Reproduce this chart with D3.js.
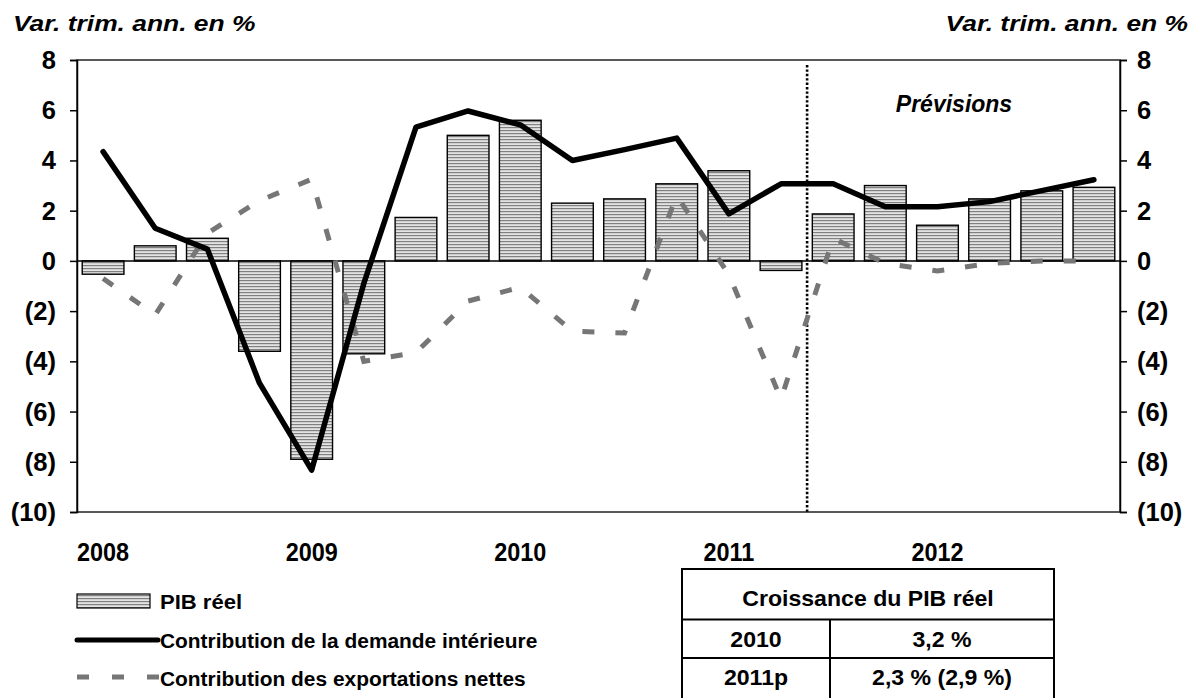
<!DOCTYPE html>
<html>
<head>
<meta charset="utf-8">
<script src="https://cdn.jsdelivr.net/npm/d3@7"></script>
<style>
  body { margin: 0; background: #fff; }
  svg { display: block; font-family: "Liberation Sans", Arial, sans-serif; font-weight: bold; }
</style>
</head>
<body>
<svg id="chart" width="1198" height="698"></svg>
<script>
// ----- data -----
const quarters = ['2008T1','2008T2','2008T3','2008T4','2009T1','2009T2','2009T3','2009T4',
                  '2010T1','2010T2','2010T3','2010T4','2011T1','2011T2','2011T3','2011T4',
                  '2012T1','2012T2','2012T3','2012T4'];
// PIB réel (bars)
const pibReel = [-0.53, 0.6, 0.9, -3.6, -7.9, -3.7, 1.73, 5.0, 5.6, 2.3,
                 2.47, 3.07, 3.59, -0.38, 1.87, 3.0, 1.42, 2.47, 2.79, 2.93];
// contribution de la demande intérieure (solid line)
const demandeInt = [4.35, 1.3, 0.47, -4.87, -8.33, -0.9, 5.33, 5.97, 5.42, 4.0,
                    4.43, 4.89, 1.87, 3.07, 3.07, 2.16, 2.16, 2.36, 2.8, 3.23];
// contribution des exportations nettes (dashed line)
const exportNettes = [-0.7, -2.15, 1.1, 2.4, 3.25, -4.0, -3.65, -1.6, -1.05, -2.8,
                      -2.87, 2.6, -0.55, -5.5, 0.9, -0.1, -0.4, -0.1, 0.0, 0.0];

const yTicks = [8, 6, 4, 2, 0, -2, -4, -6, -8, -10];
const yearLabels = ['2008', '2009', '2010', '2011', '2012'];
const forecastStart = '2011T3';

const tableHeader = 'Croissance du PIB réel';
const tableRows = [['2010', '3,2 %'], ['2011p', '2,3 % (2,9 %)']];

// ----- layout -----
const svg = d3.select('#chart');
const plotL = 77, plotR = 1120, plotT = 60, plotB = 512;

const x = d3.scaleBand().domain(quarters).range([plotL, plotR]).paddingInner(0.2).paddingOuter(0.1);
const y = d3.scaleLinear().domain([-10, 8]).range([plotB, plotT]);
const cx = q => x(q) + x.bandwidth() / 2;

// text helper with a horizontal stretch (source renders wide glyphs)
function label(g, txt, px, py, opts) {
  const o = Object.assign({ size: 20, sx: 1, anchor: 'start', italic: false }, opts);
  return g.append('text')
    .attr('transform', `translate(${px},${py}) scale(${o.sx},1)`)
    .attr('text-anchor', o.anchor)
    .attr('font-size', o.size)
    .attr('font-style', o.italic ? 'italic' : 'normal')
    .attr('fill', '#000')
    .text(txt);
}

// striped fill for bars
const defs = svg.append('defs');
const pat = defs.append('pattern')
  .attr('id', 'stripes').attr('patternUnits', 'userSpaceOnUse')
  .attr('width', 8).attr('height', 3);
pat.append('rect').attr('width', 8).attr('height', 3).attr('fill', '#e4e4e4');
pat.append('rect').attr('y', 1).attr('width', 8).attr('height', 1.2).attr('fill', '#808080');

// titles
label(svg, 'Var. trim. ann. en %', 13, 31, { size: 22, sx: 1.2, italic: true });
label(svg, 'Var. trim. ann. en %', 1188, 31, { size: 22, sx: 1.2, italic: true, anchor: 'end' });

// frame
svg.append('rect')
  .attr('x', plotL).attr('y', plotT).attr('width', plotR - plotL).attr('height', plotB - plotT)
  .attr('fill', 'none').attr('stroke', '#222').attr('stroke-width', 1.5);

// y axes
const yAxisL = d3.axisLeft(y).tickValues(yTicks).tickSize(7).tickFormat('');
const yAxisR = d3.axisRight(y).tickValues(yTicks).tickSize(7).tickFormat('');
svg.append('g').attr('transform', `translate(${plotL},0)`).call(yAxisL)
  .call(g => g.selectAll('path,line').attr('stroke', '#000').attr('stroke-width', 1.5));
svg.append('g').attr('transform', `translate(${plotR},0)`).call(yAxisR)
  .call(g => g.selectAll('path,line').attr('stroke', '#000').attr('stroke-width', 1.5));

const fmt = v => v < 0 ? `(${-v})` : `${v}`;
const tickG = svg.append('g');
yTicks.forEach(v => {
  label(tickG, fmt(v), 56, y(v) + 9, { size: 25, sx: 1.02, anchor: 'end' });
  label(tickG, fmt(v), 1137, y(v) + 9, { size: 25, sx: 1.02 });
});

// year labels, centred under each first quarter
yearLabels.forEach(t => {
  label(svg, t, cx(t + 'T1'), 561, { size: 26, sx: 0.9, anchor: 'middle' });
});

// bars
svg.append('g').selectAll('rect')
  .data(quarters)
  .join('rect')
  .attr('x', q => x(q))
  .attr('width', x.bandwidth())
  .attr('y', (q, i) => y(Math.max(0, pibReel[i])))
  .attr('height', (q, i) => Math.abs(y(pibReel[i]) - y(0)))
  .attr('fill', 'url(#stripes)')
  .attr('stroke', '#000').attr('stroke-width', 1.4);

// zero line
svg.append('line')
  .attr('x1', plotL).attr('x2', plotR).attr('y1', y(0)).attr('y2', y(0))
  .attr('stroke', '#000').attr('stroke-width', 1.5);

// forecast separator
const sepX = x(forecastStart) - x.step() * x.paddingInner() / 2;
svg.append('line')
  .attr('x1', sepX).attr('x2', sepX).attr('y1', plotT + 5).attr('y2', plotB)
  .attr('stroke', '#000').attr('stroke-width', 2.6).attr('stroke-dasharray', '2.4,2');
label(svg, 'Prévisions', 954, 112, { size: 23, italic: true, anchor: 'middle' });

// lines
const lineGen = vals => d3.line().x((d, i) => cx(quarters[i])).y(d => y(d))(vals);
svg.append('path')
  .attr('d', lineGen(exportNettes))
  .attr('fill', 'none').attr('stroke', '#767676').attr('stroke-width', 5)
  .attr('stroke-dasharray', '12,21');
svg.append('path')
  .attr('d', lineGen(demandeInt))
  .attr('fill', 'none').attr('stroke', '#000').attr('stroke-width', 5.5)
  .attr('stroke-linejoin', 'round').attr('stroke-linecap', 'round');

// legend
const lg = svg.append('g');
lg.append('rect').attr('x', 77).attr('y', 594).attr('width', 73).attr('height', 14)
  .attr('fill', 'url(#stripes)').attr('stroke', '#000').attr('stroke-width', 1.2);
label(lg, 'PIB réel', 160, 609, { size: 21, sx: 1.05 });
lg.append('line').attr('x1', 77).attr('x2', 158).attr('y1', 640).attr('y2', 640)
  .attr('stroke', '#000').attr('stroke-width', 5).attr('stroke-linecap', 'round');
label(lg, 'Contribution de la demande intérieure', 160, 648, { size: 20.5, sx: 1.02 });
lg.append('line').attr('x1', 77).attr('x2', 160).attr('y1', 677).attr('y2', 677)
  .attr('stroke', '#767676').attr('stroke-width', 5).attr('stroke-dasharray', '12,23');
label(lg, 'Contribution des exportations nettes', 160, 686, { size: 20.5, sx: 1.02 });

// summary table
const tb = svg.append('g');
const tL = 682, tR = 1054, tM = 830, rowY = [569, 619.5, 658, 701];
tb.append('rect').attr('x', tL).attr('y', rowY[0]).attr('width', tR - tL).attr('height', rowY[3] - rowY[0])
  .attr('fill', 'none').attr('stroke', '#000').attr('stroke-width', 2);
[rowY[1], rowY[2]].forEach(ry => tb.append('line')
  .attr('x1', tL).attr('x2', tR).attr('y1', ry).attr('y2', ry).attr('stroke', '#000').attr('stroke-width', 2));
tb.append('line').attr('x1', tM).attr('x2', tM).attr('y1', rowY[1]).attr('y2', rowY[3])
  .attr('stroke', '#000').attr('stroke-width', 2);
label(tb, tableHeader, (tL + tR) / 2, 606, { size: 22, sx: 1.05, anchor: 'middle' });
[647, 685].forEach((by, i) => {
  label(tb, tableRows[i][0], (tL + tM) / 2, by, { size: 22, sx: 1.05, anchor: 'middle' });
  label(tb, tableRows[i][1], (tM + tR) / 2, by, { size: 22, sx: 1.05, anchor: 'middle' });
});
</script>
</body>
</html>
